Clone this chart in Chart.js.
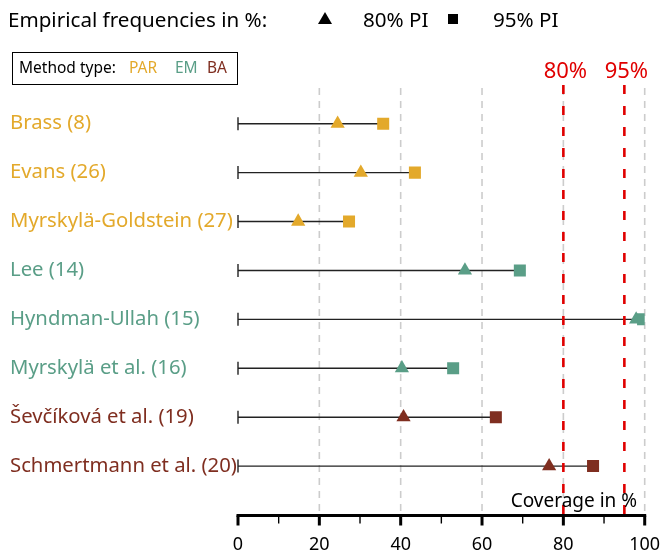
<!DOCTYPE html>
<html><head><meta charset="utf-8">
<script src="https://cdn.jsdelivr.net/npm/chart.js@4"></script>
<style>html,body{margin:0;padding:0;background:#fff;}#wrap{width:661px;height:554px;position:relative;}</style>
</head><body><div id="wrap"><canvas id="c" width="661" height="554"></canvas></div>
<script>
// ---- data ----
const methods = ['Brass (8)', 'Evans (26)', 'Myrskylä-Goldstein (27)', 'Lee (14)', 'Hyndman-Ullah (15)', 'Myrskylä et al. (16)', 'Ševčíková et al. (19)', 'Schmertmann et al. (20)'];
const methodTypes = ['PAR', 'PAR', 'PAR', 'EM', 'EM', 'EM', 'BA', 'BA'];
const pi80 = [24.5, 30.2, 14.8, 55.8, 97.9, 40.3, 40.7, 76.5];
const pi95 = [35.7, 43.5, 27.3, 69.3, 99.6, 52.9, 63.4, 87.3];
const xTicks = [0, 20, 40, 60, 80, 100];
const nominalLevels = [80, 95];
const typeNames = ['PAR', 'EM', 'BA'];
const typeColors = {PAR: '#E3A92B', EM: '#5A9E87', BA: '#7F2E20'};

const FONT = '"Noto Sans", "Open Sans", sans-serif';
const ptColors = methodTypes.map(t => typeColors[t]);

const decor = {
  id: 'decor',
  beforeDatasetsDraw(chart) {
    const ctx = chart.ctx, xs = chart.scales.x, ys = chart.scales.y, a = chart.chartArea;
    ctx.save();
    // gray dashed grid
    ctx.strokeStyle = '#cccccc'; ctx.lineWidth = 1.6; ctx.setLineDash([7, 6]);
    xTicks.slice(1).forEach(v => {
      const x = xs.getPixelForValue(v);
      ctx.beginPath(); ctx.moveTo(x, a.top); ctx.lineTo(x, a.bottom); ctx.stroke();
    });
    ctx.setLineDash([]);
    // row lines
    ctx.strokeStyle = '#222'; ctx.lineWidth = 1.4;
    methods.forEach((m, i) => {
      const y = ys.getPixelForValue(i);
      const x0 = xs.getPixelForValue(0), x1 = xs.getPixelForValue(pi95[i]);
      ctx.beginPath(); ctx.moveTo(x0, y); ctx.lineTo(x1, y); ctx.stroke();
      ctx.beginPath(); ctx.moveTo(x0, y - 6.5); ctx.lineTo(x0, y + 6.5); ctx.stroke();
    });
    // red nominal lines
    ctx.strokeStyle = '#E00000'; ctx.lineWidth = 2.6; ctx.setLineDash([9, 12]);
    nominalLevels.forEach(v => {
      const x = xs.getPixelForValue(v);
      ctx.beginPath(); ctx.moveTo(x, a.top - 3); ctx.lineTo(x, a.bottom); ctx.stroke();
    });
    ctx.setLineDash([]);
    ctx.restore();
  },
  afterDraw(chart) {
    const ctx = chart.ctx, xs = chart.scales.x, a = chart.chartArea;
    ctx.save();
    // axis line and ticks
    ctx.strokeStyle = '#000';
    ctx.lineWidth = 3;
    ctx.beginPath(); ctx.moveTo(xs.getPixelForValue(0) - 1.5, a.bottom); ctx.lineTo(xs.getPixelForValue(100) + 1.5, a.bottom); ctx.stroke();
    for (let v = 0; v <= 100; v += 10) {
      const x = xs.getPixelForValue(v);
      const major = v % 20 === 0;
      ctx.lineWidth = major ? 3 : 1.4;
      ctx.beginPath(); ctx.moveTo(x, a.bottom); ctx.lineTo(x, a.bottom + (major ? 10 : 8)); ctx.stroke();
    }
    // x title
    ctx.fillStyle = '#000'; ctx.font = '19px ' + FONT; ctx.textAlign = 'right'; ctx.textBaseline = 'alphabetic';
    ctx.fillText('Coverage in %', 637, 507);
    // red labels
    ctx.fillStyle = '#E00000'; ctx.font = '22px ' + FONT; ctx.textAlign = 'center';
    nominalLevels.forEach(v => ctx.fillText(v + '%', xs.getPixelForValue(v) + 2, 78));
    // header
    ctx.fillStyle = '#000'; ctx.font = '20.6px ' + FONT; ctx.textAlign = 'left';
    ctx.fillText('Empirical frequencies in %:', 8, 27);
    ctx.fillText('80% PI', 363, 27);
    ctx.fillText('95% PI', 493, 27);
    ctx.beginPath(); ctx.moveTo(325, 12); ctx.lineTo(332, 24); ctx.lineTo(318, 24); ctx.closePath(); ctx.fill();
    ctx.fillRect(448, 14, 10, 10);
    // method type box
    ctx.strokeStyle = '#000'; ctx.lineWidth = 1;
    ctx.strokeRect(12.5, 52.5, 225, 32);
    ctx.font = '15.5px ' + FONT; ctx.textBaseline = 'middle';
    ctx.fillText('Method type:', 19, 69);
    const tx = [129, 175, 207];
    typeNames.forEach((t, i) => { ctx.fillStyle = typeColors[t]; ctx.fillText(t, tx[i], 69); });
    ctx.restore();
  }
};

new Chart(document.getElementById('c'), {
  type: 'scatter',
  data: {
    datasets: [
      {label: '95% PI', data: pi95.map((v, i) => ({x: v, y: i})), pointStyle: 'rect', pointRadius: 8.5, pointHoverRadius: 8.5,
       backgroundColor: ptColors, borderColor: ptColors, borderWidth: 0, order: 0},
      {label: '80% PI', data: pi80.map((v, i) => ({x: v, y: i})), pointStyle: 'triangle', pointRadius: 8.2, pointHoverRadius: 8.2,
       backgroundColor: ptColors, borderColor: ptColors, borderWidth: 0, order: 1}
    ]
  },
  options: {
    responsive: false, animation: false,
    layout: {padding: {top: 88, right: 16.3, left: 10, bottom: 0}},
    plugins: {legend: {display: false}, tooltip: {enabled: false}},
    scales: {
      x: {type: 'linear', min: 0, max: 100,
          afterBuildTicks: s => { s.ticks = xTicks.map(v => ({value: v})); },
          afterFit: s => { s.height = 38.5; s.paddingLeft = 0; s.paddingRight = 0; },
          grid: {display: false, drawTicks: false}, border: {display: false},
          ticks: {font: {family: FONT, size: 18}, color: '#000', padding: 19, maxRotation: 0}},
      y: {type: 'linear', reverse: true, min: -0.73, max: 8.01,
          afterBuildTicks: s => { s.ticks = methods.map((m, i) => ({value: i})); },
          afterFit: s => { s.width = 228; s.paddingTop = 0; s.paddingBottom = 0; },
          grid: {display: false, drawTicks: false}, border: {display: false},
          ticks: {font: {family: FONT, size: 20.3}, padding: 0, crossAlign: 'far', autoSkip: false,
                  callback: v => methods[v],
                  color: c => (c.tick ? typeColors[methodTypes[c.tick.value]] : '#000')}}
    }
  },
  plugins: [decor]
});
</script></body></html>
